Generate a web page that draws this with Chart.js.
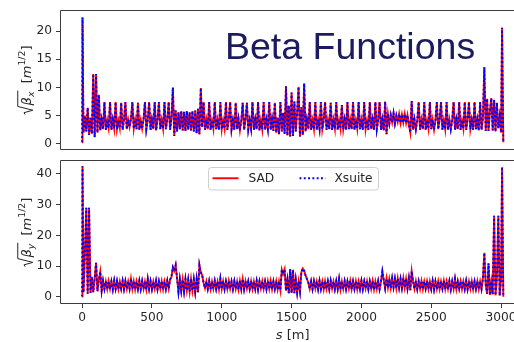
<!DOCTYPE html>
<html>
<head>
<meta charset="utf-8">
<script src="https://cdn.jsdelivr.net/npm/chart.js@4.4.0/dist/chart.umd.min.js"></script>
<style>
  html, body { margin: 0; padding: 0; background: #fff; overflow: hidden; width: 514px; height: 342px; }
  #wrap { position: relative; width: 530px; height: 342px; }
  canvas { position: absolute; left: 0; }
  #title {
    position: absolute; left: 225px; top: 28px;
    font: 37.5px/1 "Liberation Sans", Arial, sans-serif;
    color: #1c1b5e; white-space: nowrap;
  }
</style>
</head>
<body>
<div id="wrap">
  <canvas id="cx" width="530" height="160" style="top:0;width:530px;height:160px"></canvas>
  <canvas id="cy" width="530" height="192" style="top:150px;width:530px;height:192px"></canvas>
  <div id="title">Beta Functions</div>
</div>
<script>
// s positions [m] sampled along the ring
const sPos = [0, 3,
  10, 20, 30, 40, 50, 60, 70, 80, 90, 100,
  110, 120, 130, 140, 150, 160, 170, 180, 190, 200,
  210, 220, 230, 240, 250, 260, 270, 280, 290, 300,
  310, 320, 330, 340, 350, 360, 370, 380, 390, 400,
  410, 420, 430, 440, 450, 460, 470, 480, 490, 500,
  510, 520, 530, 540, 550, 560, 570, 580, 590, 600,
  610, 620, 630, 640, 650, 660, 670, 680, 690, 700,
  710, 720, 730, 740, 750, 760, 770, 780, 790, 800,
  810, 820, 830, 840, 850, 860, 870, 880, 890, 900,
  910, 920, 930, 940, 950, 960, 970, 980, 990, 1000,
  1010, 1020, 1030, 1040, 1050, 1060, 1070, 1080, 1090, 1100,
  1110, 1120, 1130, 1140, 1150, 1160, 1170, 1180, 1190, 1200,
  1210, 1220, 1230, 1240, 1250, 1260, 1270, 1280, 1290, 1300,
  1310, 1320, 1330, 1340, 1350, 1360, 1370, 1380, 1390, 1400,
  1410, 1420, 1430, 1440, 1450, 1460, 1470, 1480, 1490, 1500,
  1510, 1520, 1530, 1540, 1550, 1560, 1570, 1580, 1590, 1600,
  1610, 1620, 1630, 1640, 1650, 1660, 1670, 1680, 1690, 1700,
  1710, 1720, 1730, 1740, 1750, 1760, 1770, 1780, 1790, 1800,
  1810, 1820, 1830, 1840, 1850, 1860, 1870, 1880, 1890, 1900,
  1910, 1920, 1930, 1940, 1950, 1960, 1970, 1980, 1990, 2000,
  2010, 2020, 2030, 2040, 2050, 2060, 2070, 2080, 2090, 2100,
  2110, 2120, 2130, 2140, 2150, 2160, 2170, 2180, 2190, 2200,
  2210, 2220, 2230, 2240, 2250, 2260, 2270, 2280, 2290, 2300,
  2310, 2320, 2330, 2340, 2350, 2360, 2370, 2380, 2390, 2400,
  2410, 2420, 2430, 2440, 2450, 2460, 2470, 2480, 2490, 2500,
  2510, 2520, 2530, 2540, 2550, 2560, 2570, 2580, 2590, 2600,
  2610, 2620, 2630, 2640, 2650, 2660, 2670, 2680, 2690, 2700,
  2710, 2720, 2730, 2740, 2750, 2760, 2770, 2780, 2790, 2800,
  2810, 2820, 2830, 2840, 2850, 2860, 2870, 2880, 2890, 2900,
  2910, 2920, 2930, 2940, 2950, 2960, 2970, 2980, 2990, 3000,
  3007, 3016];

// sqrt(beta_x) [m^1/2]  (SAD and Xsuite agree to plotting precision)
const sqrtBetaX = [0.3, 22.4,
  2.0, 5.0, 2.2, 6.4, 1.6, 4.6, 1.8, 12.4, 1.2, 12.4,
  2.0, 8.7, 2.4, 4.3, 2.6, 7.4, 2.5, 4.2, 2.8, 7.4,
  2.5, 4.3, 2.7, 7.4, 2.6, 4.1, 2.8, 7.3, 2.5, 4.2,
  7.4, 2.6, 4.3, 3.0, 4.4, 7.4, 2.7, 4.3, 2.6, 7.3,
  2.5, 4.2, 2.7, 4.4, 7.4, 2.6, 4.2, 7.4, 2.5, 4.3,
  2.6, 7.4, 2.4, 4.2, 7.4, 2.6, 4.3, 2.7, 7.4, 2.6,
  4.3, 7.4, 2.5, 4.6, 10.0, 1.4, 5.9, 2.2, 5.6, 2.6,
  5.8, 2.4, 5.7, 2.3, 5.8, 2.5, 5.6, 2.4, 5.8, 2.2,
  5.9, 1.9, 6.2, 1.7, 9.9, 3.0, 7.4, 2.5, 4.3, 2.6,
  7.4, 2.5, 4.2, 2.7, 7.4, 2.6, 4.3, 2.5, 7.4, 2.6,
  4.2, 2.7, 7.4, 2.5, 4.3, 7.4, 2.6, 4.2, 2.5, 7.3,
  2.6, 4.4, 2.4, 4.2, 7.3, 2.5, 4.3, 7.3, 2.6, 4.2,
  2.7, 7.4, 2.5, 4.3, 2.6, 7.4, 2.4, 4.2, 2.6, 7.4,
  2.5, 4.3, 2.7, 7.4, 2.5, 4.4, 2.3, 7.3, 2.0, 4.6,
  1.7, 7.4, 2.2, 5.5, 1.8, 10.2, 1.5, 6.8, 1.3, 9.1,
  1.4, 7.5, 2.2, 5.8, 10.1, 1.3, 6.5, 1.6, 10.7, 2.2,
  4.3, 2.6, 7.4, 2.5, 4.2, 2.6, 7.4, 2.5, 4.3, 2.7,
  7.4, 2.6, 4.2, 7.4, 2.5, 4.3, 2.6, 7.3, 2.5, 4.3,
  2.7, 7.4, 2.5, 4.2, 2.7, 6.9, 2.6, 4.3, 2.5, 7.4,
  2.6, 4.3, 2.6, 7.4, 2.5, 4.2, 2.7, 7.4, 2.6, 4.3,
  2.5, 7.4, 2.6, 4.2, 2.5, 7.4, 2.6, 4.3, 2.5, 7.4,
  2.6, 4.2, 7.4, 2.5, 4.3, 2.4, 7.5, 1.7, 5.3, 3.6,
  5.1, 3.8, 5.4, 3.6, 5.0, 3.9, 5.3, 3.7, 5.2, 3.8,
  5.3, 3.7, 5.1, 3.4, 2.0, 7.6, 2.5, 4.3, 2.6, 4.2,
  7.4, 2.5, 4.3, 2.6, 7.4, 2.5, 4.2, 2.7, 7.4, 2.6,
  4.3, 2.5, 4.2, 7.4, 2.6, 4.3, 7.4, 2.5, 4.2, 2.6,
  7.4, 2.5, 4.3, 2.6, 4.2, 7.4, 2.5, 4.3, 2.6, 7.4,
  2.5, 4.2, 2.7, 7.4, 2.5, 4.3, 7.4, 2.6, 4.2, 2.5,
  7.4, 2.6, 4.3, 2.4, 7.4, 2.5, 4.6, 13.6, 2.3, 8.0,
  2.3, 5.8, 8.1, 2.4, 7.8, 2.2, 7.3, 2.8, 4.8, 2.0,
  20.6, 0.3];

// sqrt(beta_y) [m^1/2]
const sqrtBetaY = [0.1, 42.5,
  1.5, 14.0, 29.0, 1.0, 29.0, 1.3, 6.5, 1.5, 6.0, 11.1,
  1.8, 5.5, 8.2, 2.0, 5.2, 2.6, 5.0, 2.5, 5.1, 2.6,
  5.0, 2.4, 5.3, 2.6, 5.1, 2.5, 5.0, 2.7, 5.2, 2.5,
  5.1, 2.6, 5.0, 2.7, 5.9, 2.6, 5.1, 2.4, 5.0, 2.6,
  5.2, 2.5, 5.1, 2.6, 5.0, 2.4, 5.8, 2.6, 5.1, 2.5,
  5.0, 2.7, 5.2, 2.5, 5.0, 2.6, 5.1, 2.4, 5.0, 2.6,
  5.2, 2.7, 5.6, 6.5, 9.6, 8.5, 10.3, 6.0, 1.6, 5.7,
  2.0, 5.6, 1.8, 5.7, 2.1, 5.5, 1.7, 5.8, 2.0, 5.6,
  1.6, 5.7, 1.5, 10.3, 8.0, 7.0, 4.5, 2.8, 5.0, 2.6,
  5.1, 2.5, 5.0, 2.7, 5.2, 2.6, 5.0, 2.4, 5.9, 2.6,
  5.1, 2.5, 5.0, 2.6, 5.2, 2.7, 5.0, 2.5, 5.1, 2.6,
  5.0, 2.4, 5.2, 2.6, 5.8, 2.5, 5.1, 2.7, 5.0, 2.6,
  5.1, 2.5, 5.0, 2.6, 5.2, 2.4, 5.0, 2.7, 5.1, 2.6,
  5.0, 2.5, 5.1, 2.6, 5.2, 2.5, 5.0, 2.6, 5.1, 2.4,
  5.0, 2.2, 8.9, 7.5, 9.0, 2.0, 5.5, 1.2, 9.0, 1.3,
  8.8, 1.2, 5.5, 1.4, 5.0, 1.8, 8.0, 9.2, 8.5, 7.0,
  5.8, 4.6, 2.6, 5.0, 2.5, 5.1, 2.7, 5.0, 2.5, 5.2,
  2.6, 5.0, 2.4, 5.1, 2.6, 5.0, 2.5, 5.2, 2.7, 5.0,
  2.5, 5.1, 2.6, 5.8, 2.4, 5.0, 2.6, 5.1, 2.5, 5.0,
  2.7, 5.2, 2.5, 5.0, 2.6, 5.1, 2.4, 5.0, 2.6, 5.2,
  2.5, 5.0, 2.7, 5.1, 2.5, 5.0, 2.6, 5.2, 2.4, 5.0,
  2.6, 5.1, 2.5, 5.0, 8.3, 5.5, 2.8, 6.0, 3.0, 5.8,
  2.9, 6.0, 3.1, 5.9, 2.8, 6.0, 3.0, 5.8, 2.9, 6.1,
  3.0, 5.9, 2.8, 6.0, 2.2, 8.3, 5.0, 2.6, 5.1, 2.5,
  5.0, 2.6, 5.2, 2.5, 5.0, 2.7, 5.1, 2.5, 5.0, 2.6,
  5.2, 2.4, 5.0, 2.6, 5.1, 2.5, 5.0, 2.7, 5.2, 2.5,
  5.0, 2.6, 5.1, 2.4, 5.0, 2.6, 5.8, 2.5, 5.0, 2.7,
  5.1, 2.5, 5.0, 2.6, 5.2, 2.5, 5.0, 2.6, 5.1, 2.4,
  5.0, 2.6, 5.1, 2.5, 5.0, 2.6, 6.0, 14.3, 4.0, 1.0,
  10.9, 0.6, 5.0, 0.8, 26.4, 0.5, 6.0, 26.4, 0.4, 6.0,
  42.2, 0.0];

const seriesNames = ['SAD', 'Xsuite'];
const sTicks = [0, 500, 1000, 1500, 2000, 2500, 3000];
const bxTicks = [0, 5, 10, 15, 20];
const byTicks = [0, 10, 20, 30, 40];

const FONT = "'DejaVu Sans', sans-serif";
const TXT = '#262626';
const AXC = '#3c3c3c';

function toXY(xs, ys) {
  return xs.map((x, i) => ({ x: x, y: ys[i] }));
}

function makeSets(vals) {
  return [
    { label: seriesNames[0], data: toXY(sPos, vals), borderColor: '#ff0000',
      borderWidth: 1.9, order: 1 },
    { label: seriesNames[1], data: toXY(sPos, vals), borderColor: '#0000ff',
      borderWidth: 1.9, borderDash: [1.9, 2.4], order: 0 }
  ];
}

// spines: top, left, bottom (the right one lies outside the window)
const framePlugin = {
  id: 'frame',
  afterDraw(chart) {
    const a = chart.chartArea, ctx = chart.ctx;
    const l = Math.round(a.left) - 0.5, t = Math.round(a.top) - 0.5, b = Math.round(a.bottom) + 0.5;
    ctx.save();
    ctx.strokeStyle = AXC;
    ctx.lineWidth = 1;
    ctx.beginPath();
    ctx.moveTo(chart.width, t);
    ctx.lineTo(l, t);
    ctx.lineTo(l, b);
    ctx.lineTo(chart.width, b);
    ctx.stroke();
    ctx.restore();
  }
};

// sqrt(beta_sub) [m^{1/2}] written sideways
function mathLabel(sub) {
  return {
    id: 'ylab_' + sub,
    afterDraw(chart) {
      const ctx = chart.ctx, a = chart.chartArea;
      const fs = 13;
      const runs = [
        { t: 'β', f: 'italic ' + fs + 'px ' + FONT, dy: 0, bar: true },
        { t: sub, f: 'italic ' + (fs * 0.72) + 'px ' + FONT, dy: 3, bar: true },
        { t: '  [', f: fs + 'px ' + FONT, dy: 0 },
        { t: 'm', f: 'italic ' + fs + 'px ' + FONT, dy: 0 },
        { t: '1/2', f: (fs * 0.72) + 'px ' + FONT, dy: -5.5 },
        { t: ']', f: fs + 'px ' + FONT, dy: 0 }
      ];
      ctx.save();
      const rad = fs * 0.7;
      let total = rad;
      runs.forEach(r => { ctx.font = r.f; r.w = ctx.measureText(r.t).width; total += r.w; });
      ctx.translate(30.5, (a.top + a.bottom) / 2);
      ctx.rotate(-Math.PI / 2);
      ctx.fillStyle = TXT;
      ctx.strokeStyle = TXT;
      ctx.textBaseline = 'alphabetic';
      let x = -total / 2;
      const x0 = x;
      x += rad;
      let barEnd = x;
      runs.forEach(r => {
        ctx.font = r.f;
        ctx.fillText(r.t, x, r.dy);
        x += r.w;
        if (r.bar) barEnd = x + 1;
      });
      // radical sign with overbar
      ctx.lineWidth = 1;
      ctx.beginPath();
      ctx.moveTo(x0, -fs * 0.42);
      ctx.lineTo(x0 + fs * 0.14, -fs * 0.5);
      ctx.lineTo(x0 + fs * 0.33, fs * 0.18);
      ctx.lineTo(x0 + fs * 0.62, -fs * 0.98);
      ctx.lineTo(barEnd, -fs * 0.98);
      ctx.stroke();
      ctx.restore();
    }
  };
}

const xTitlePlugin = {
  id: 'xtitle',
  afterDraw(chart) {
    const ctx = chart.ctx, a = chart.chartArea;
    const fs = 13;
    ctx.save();
    ctx.fillStyle = TXT;
    ctx.textBaseline = 'alphabetic';
    const p1 = 's', p2 = ' [m]';
    ctx.font = 'italic ' + fs + 'px ' + FONT;
    const w1 = ctx.measureText(p1).width;
    ctx.font = fs + 'px ' + FONT;
    const w2 = ctx.measureText(p2).width;
    let x = (a.left + a.right) / 2 - (w1 + w2) / 2;
    const y = a.bottom + 36;
    ctx.font = 'italic ' + fs + 'px ' + FONT;
    ctx.fillText(p1, x, y);
    ctx.font = fs + 'px ' + FONT;
    ctx.fillText(p2, x + w1, y);
    ctx.restore();
  }
};

// matplotlib-style legend box at upper centre of the lower panel
const legendPlugin = {
  id: 'mplLegend',
  afterDraw(chart) {
    const ctx = chart.ctx, a = chart.chartArea;
    const w = 170, h = 22.5;
    const lx = Math.round((a.left + a.right) / 2 - w / 2) + 0.5;
    const ly = Math.round(a.top + 6) + 0.5;
    ctx.save();
    ctx.beginPath();
    ctx.roundRect(lx, ly, w, h, 3);
    ctx.fillStyle = 'rgba(255,255,255,0.85)';
    ctx.fill();
    ctx.strokeStyle = '#cfcfcf';
    ctx.lineWidth = 1;
    ctx.stroke();
    const cy = ly + h / 2 - 0.5;
    const items = [
      { ds: chart.data.datasets[0], x1: 4, x2: 30, tx: 40 },
      { ds: chart.data.datasets[1], x1: 91, x2: 117, tx: 126 }
    ];
    items.forEach(it => {
      ctx.beginPath();
      ctx.setLineDash(it.ds.borderDash || []);
      ctx.strokeStyle = it.ds.borderColor;
      ctx.lineWidth = it.ds.borderWidth;
      ctx.moveTo(lx + it.x1, cy);
      ctx.lineTo(lx + it.x2, cy);
      ctx.stroke();
      ctx.setLineDash([]);
      ctx.fillStyle = TXT;
      ctx.font = '12.2px ' + FONT;
      ctx.textBaseline = 'middle';
      ctx.fillText(it.ds.label, lx + it.tx, cy + 0.5);
    });
    ctx.restore();
  }
};

function yScale(min, max, ticks) {
  return {
    min: min, max: max,
    afterBuildTicks: s => { s.ticks = ticks.map(v => ({ value: v })); },
    afterFit: s => { s.width = 61; },
    ticks: { font: { family: FONT, size: 12.2 }, color: TXT, padding: 4, autoSkip: false },
    grid: { drawOnChartArea: false, drawTicks: true, tickLength: 5, color: AXC },
    border: { display: false }
  };
}

const common = {
  responsive: false,
  animation: false,
  events: [],
  elements: { point: { radius: 0 }, line: { tension: 0 } },
  plugins: { legend: { display: false }, tooltip: { enabled: false } }
};

new Chart(document.getElementById('cx'), {
  type: 'line',
  data: { datasets: makeSets(sqrtBetaX) },
  options: Object.assign({}, common, {
    layout: { padding: { left: 0, right: 5.6, top: 10, bottom: 3 } },
    scales: {
      x: { type: 'linear', display: false, min: -151, max: 3167 },
      y: yScale(-0.85, 23.5, bxTicks)
    }
  }),
  plugins: [framePlugin, mathLabel('x')]
});

new Chart(document.getElementById('cy'), {
  type: 'line',
  data: { datasets: makeSets(sqrtBetaY) },
  options: Object.assign({}, common, {
    layout: { padding: { left: 0, right: 5.6, top: 7, bottom: 0 } },
    scales: {
      x: {
        type: 'linear', min: -151, max: 3167,
        afterBuildTicks: s => { s.ticks = sTicks.map(v => ({ value: v })); },
        afterFit: s => { s.height = 39; },
        ticks: { font: { family: FONT, size: 12.2 }, color: TXT, padding: 3,
                 autoSkip: false, maxRotation: 0, callback: v => String(v) },
        grid: { drawOnChartArea: false, drawTicks: true, tickLength: 5, color: AXC },
        border: { display: false }
      },
      y: yScale(-2.0, 44.1, byTicks)
    }
  }),
  plugins: [framePlugin, mathLabel('y'), xTitlePlugin, legendPlugin]
});
</script>
</body>
</html>
